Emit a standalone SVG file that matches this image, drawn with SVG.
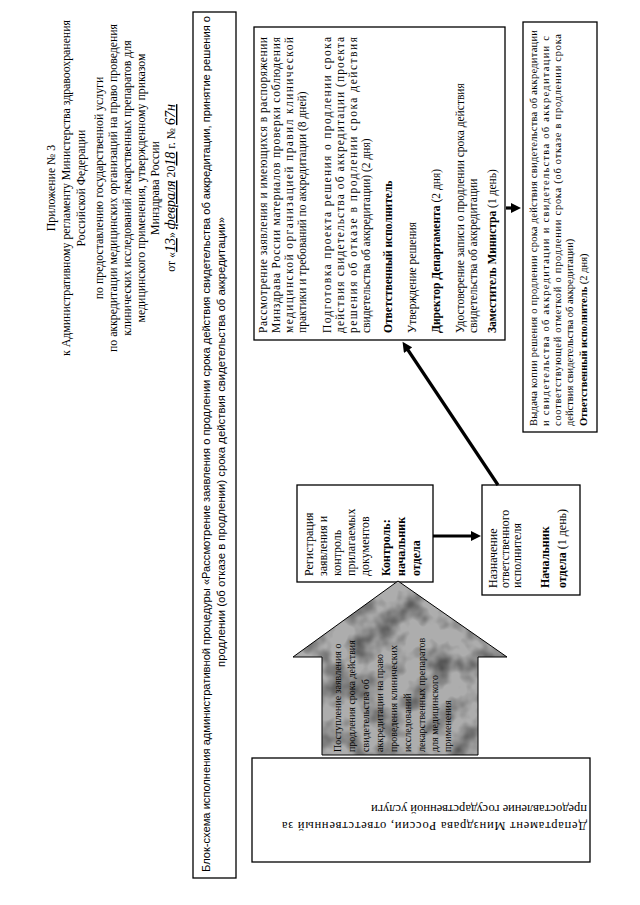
<svg xmlns="http://www.w3.org/2000/svg" width="640" height="905" viewBox="0 0 640 905">
<style>
.t{font-family:"Liberation Serif","Times New Roman",serif;fill:#000}
.n{font-family:"Liberation Sans Narrow","Liberation Sans",Arial,sans-serif;fill:#000}
.b{font-weight:bold}
.hw{font-style:italic;font-size:14px;text-decoration:underline}
.box{fill:#fff;stroke:#000;stroke-width:1.3}
.con{fill:none;stroke:#000;stroke-width:3.2}
</style>
<defs>
<marker id="ah" viewBox="0 0 10 10" refX="5" refY="5" markerWidth="12" markerHeight="10" markerUnits="userSpaceOnUse" orient="auto"><path d="M0,0 L10,5 L0,10 z" fill="#000"/></marker>
<clipPath id="arrowClip"><polygon points="398,581 507,657 478,657 478,755 322,755 322,657 293,657"/></clipPath>
<filter id="mottle" x="0" y="0" width="1" height="1">
<feTurbulence type="fractalNoise" baseFrequency="0.04" numOctaves="3" seed="7"/>
<feColorMatrix type="matrix" values="0 0 0 0 0  0 0 0 0 0  0 0 0 0 0  0 0 0 1.1 -0.45"/>
</filter>
</defs>
<rect width="640" height="905" fill="#fff"/>

<g id="header" class="t" font-size="11.8" text-anchor="middle" transform="rotate(-90)">
<text x="-188" y="55">Приложение № 3</text>
<text x="-188" y="70">к Административному регламенту Министерства здравоохранения</text>
<text x="-188" y="85">Российской Федерации</text>
<text x="-188" y="103">по предоставлению государственной услуги</text>
<text x="-188" y="117">по аккредитации медицинских организаций на право проведения</text>
<text x="-188" y="131">клинических исследований лекарственных препаратов для</text>
<text x="-188" y="145">медицинского применения, утвержденному приказом</text>
<text x="-188" y="159">Минздрава России</text>
<text x="-188" y="175">от «<tspan class="hw">13</tspan>» <tspan class="hw">февраля</tspan> 20<tspan class="hw">18</tspan> г. № <tspan class="hw">67н</tspan></text>
</g>

<g id="title">
<rect class="box" x="193" y="12" width="43" height="866"/>
<g class="n" font-size="11" transform="rotate(-90)">
<text x="-872" y="210" textLength="856" lengthAdjust="spacingAndGlyphs">Блок-схема исполнения административной процедуры «Рассмотрение заявления о продлении срока действия свидетельства об аккредитации, принятие решения о</text>
<text x="-442" y="225" text-anchor="middle" textLength="450" lengthAdjust="spacingAndGlyphs">продлении (об отказе в продлении) срока действия свидетельства об аккредитации»</text>
</g>
</g>

<g id="review">
<rect class="box" x="254" y="27" width="251" height="313"/>
<g class="t" font-size="11.5" transform="rotate(-90)">
<text x="-333" y="267" textLength="296" lengthAdjust="spacing">Рассмотрение заявления и имеющихся в распоряжении</text>
<text x="-333" y="280" textLength="296" lengthAdjust="spacing">Минздрава России материалов проверки соблюдения</text>
<text x="-333" y="293" textLength="296" lengthAdjust="spacing">медицинской организацией правил клинической</text>
<text x="-333" y="306">практики и требований по аккредитации (8 дней)</text>
<text x="-333" y="331" textLength="296" lengthAdjust="spacing">Подготовка проекта решения о продлении срока</text>
<text x="-333" y="344" textLength="296" lengthAdjust="spacing">действия свидетельства об аккредитации (проекта</text>
<text x="-333" y="357" textLength="296" lengthAdjust="spacing">решения об отказе в продлении срока действия</text>
<text x="-333" y="370">свидетельства об аккредитации) (2 дня)</text>
<text x="-333" y="392" class="b">Ответственный исполнитель</text>
<text x="-333" y="416">Утверждение решения</text>
<text x="-333" y="440"><tspan class="b">Директор Департамента</tspan> (2 дня)</text>
<text x="-333" y="464">Удостоверение записи о продлении срока действия</text>
<text x="-333" y="477">свидетельства об аккредитации</text>
<text x="-333" y="496"><tspan class="b">Заместитель Министра</tspan> (1 день)</text>
</g>
</g>

<g id="issue">
<rect class="box" x="523" y="22" width="74" height="410"/>
<g class="t" font-size="10.5" transform="rotate(-90)">
<text x="-426" y="537" textLength="396" lengthAdjust="spacing">Выдача копии решения о продлении срока действия свидетельства об аккредитации</text>
<text x="-426" y="549" textLength="390" lengthAdjust="spacing">и свидетельства об аккредитации и свидетельства об аккредитации с</text>
<text x="-426" y="561" textLength="392" lengthAdjust="spacing">соответствующей отметкой о продлении срока (об отказе в продлении срока</text>
<text x="-426" y="573">действия свидетельства об аккредитации)</text>
<text x="-426" y="587"><tspan class="b">Ответственный исполнитель</tspan> (2 дня)</text>
</g>
</g>

<g id="registration">
<rect class="box" x="297" y="485" width="136" height="97"/>
<g class="t" font-size="12" transform="rotate(-90)">
<text x="-576" y="313">Регистрация</text>
<text x="-576" y="327">заявления и</text>
<text x="-576" y="341">контроль</text>
<text x="-576" y="355">прилагаемых</text>
<text x="-576" y="369">документов</text>
<text x="-576" y="390" class="b">Контроль:</text>
<text x="-576" y="405" class="b">начальник</text>
<text x="-576" y="420" class="b">отдела</text>
</g>
</g>

<g id="assign">
<rect class="box" x="482" y="485" width="98" height="110"/>
<g class="t" font-size="12" transform="rotate(-90)">
<text x="-588" y="497">Назначение</text>
<text x="-588" y="509">ответственного</text>
<text x="-588" y="521">исполнителя</text>
<text x="-588" y="549" class="b">Начальник</text>
<text x="-588" y="566"><tspan class="b">отдела</tspan> (1 день)</text>
</g>
</g>

<g id="incoming">
<polygon points="398,581 507,657 478,657 478,755 322,755 322,657 293,657" fill="#adadad"/>
<rect x="290" y="578" width="220" height="180" fill="#000" filter="url(#mottle)" clip-path="url(#arrowClip)"/>
<polygon points="398,581 507,657 478,657 478,755 322,755 322,657 293,657" fill="none" stroke="#000" stroke-width="1"/>
<g class="t" font-size="10" transform="rotate(-90)">
<text x="-752" y="341">Поступление заявления о</text>
<text x="-752" y="355">продления срока действия</text>
<text x="-752" y="369">свидетельства об</text>
<text x="-752" y="383">аккредитации на право</text>
<text x="-752" y="397">проведения клинических</text>
<text x="-752" y="411">исследований</text>
<text x="-752" y="425">лекарственных препаратов</text>
<text x="-752" y="438">для медицинского</text>
<text x="-752" y="451">применения</text>
</g>
</g>

<g id="department">
<rect class="box" x="252" y="758" width="338" height="104"/>
<g class="t" font-size="12.5" transform="rotate(180)">
<text x="-587" y="-822" textLength="305" lengthAdjust="spacing">Департамент Минздрава  России, ответственный за</text>
<text x="-587" y="-805">предоставление государственной услуги</text>
</g>
</g>

<g id="connectors">
<path class="con" d="M433,536 L476,536" marker-end="url(#ah)"/>
<path class="con" d="M498,485 L405.3,346" marker-end="url(#ah)"/>
<path class="con" d="M506,208 L516,208" marker-end="url(#ah)"/>
</g>
</svg>
